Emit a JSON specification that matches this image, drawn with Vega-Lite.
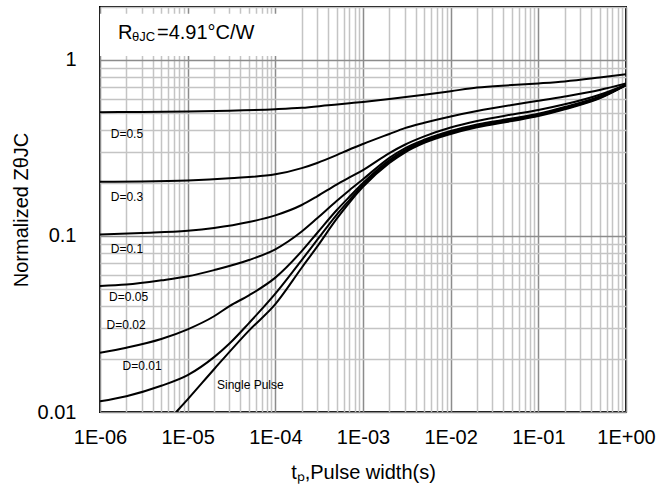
{
  "$schema": "https://vega.github.io/schema/vega-lite/v6.json",
  "width": 526,
  "height": 405,
  "autosize": {"type": "none"},
  "padding": {"left": 100, "top": 7, "right": 31, "bottom": 82},
  "background": "white",
  "encoding": {
    "x": {
      "field": "t", "type": "quantitative",
      "scale": {"type": "log", "domain": [0.000001, 1], "nice": false},
      "axis": {
        "title": "tₚ,Pulse width(s)",
        "values": [0.000001,0.000002,0.000003,0.000004,0.000005,0.000006,0.000007,0.000008,0.000009,0.00001,0.00002,0.00003,0.00004,0.00005,0.00006,0.00007,0.00008,0.00009,0.0001,0.0002,0.0003,0.0004,0.0005,0.0006,0.0007,0.0008,0.0009,0.001,0.002,0.003,0.004,0.005,0.006,0.007,0.008,0.009,0.01,0.02,0.03,0.04,0.05,0.06,0.07,0.08,0.09,0.1,0.2,0.3,0.4,0.5,0.6,0.7,0.8,0.9,1],
        "labelExpr": "abs(log(datum.value)/LN10 - round(log(datum.value)/LN10)) < 0.01 ? (datum.value >= 0.999 ? '1E+00' : '1E-' + pad(toString(round(-log(datum.value)/LN10)), 2, '0', 'left')) : ''",
        "labelOverlap": false,
        "labelFlush": false,
        "labelPadding": 15,
        "titlePadding": 15,
        "grid": true,
        "gridColor": {"condition": {"test": "abs(log(datum.value)/LN10 - round(log(datum.value)/LN10)) < 0.01", "value": "#8c8c8c"}, "value": "#c4c4c4"},
        "gridWidth": 1.5
      }
    },
    "y": {
      "field": "z", "type": "quantitative",
      "scale": {"type": "log", "domain": [0.01, 2], "nice": false},
      "axis": {
        "title": "Normalized ZθJC",
        "values": [0.01,0.02,0.03,0.04,0.05,0.06,0.07,0.08,0.09,0.1,0.2,0.3,0.4,0.5,0.6,0.7,0.8,0.9,1,2],
        "format": "~g",
        "labelExpr": "abs(log(datum.value)/LN10 - round(log(datum.value)/LN10)) < 0.01 ? datum.label : ''",
        "labelOverlap": false,
        "labelFlush": false,
        "labelPadding": 24,
        "titlePadding": 6,
        "grid": true,
        "gridColor": {"condition": {"test": "abs(log(datum.value)/LN10 - round(log(datum.value)/LN10)) < 0.01", "value": "#8c8c8c"}, "value": "#c4c4c4"},
        "gridWidth": 1.5
      }
    }
  },
  "layer": [
    {
      "data": {"values": [{"t": 0.000001, "t2": 0.000147, "z": 1.054, "z2": 1.83}]},
      "mark": {"type": "rect", "color": "white"},
      "encoding": {"x2": {"field": "t2"}, "y2": {"field": "z2"}}
    },
    {
      "data": {"name": "curves", "values": [
        {"s":"D=0.5","t":0.000001,"z":0.505},{"s":"D=0.5","t":0.000003,"z":0.507},{"s":"D=0.5","t":0.00001,"z":0.51},{"s":"D=0.5","t":0.00003,"z":0.515},{"s":"D=0.5","t":0.0001,"z":0.525},{"s":"D=0.5","t":0.0002,"z":0.535},{"s":"D=0.5","t":0.0004,"z":0.553},{"s":"D=0.5","t":0.0007,"z":0.568},{"s":"D=0.5","t":0.001,"z":0.578},{"s":"D=0.5","t":0.002,"z":0.6},{"s":"D=0.5","t":0.005,"z":0.635},{"s":"D=0.5","t":0.01,"z":0.665},{"s":"D=0.5","t":0.02,"z":0.697},{"s":"D=0.5","t":0.05,"z":0.72},{"s":"D=0.5","t":0.1,"z":0.736},{"s":"D=0.5","t":0.2,"z":0.755},{"s":"D=0.5","t":0.5,"z":0.795},{"s":"D=0.5","t":1,"z":0.83},
        {"s":"D=0.3","t":0.000001,"z":0.203},{"s":"D=0.3","t":0.000003,"z":0.204},{"s":"D=0.3","t":0.00001,"z":0.207},{"s":"D=0.3","t":0.00003,"z":0.213},{"s":"D=0.3","t":0.0001,"z":0.224},{"s":"D=0.3","t":0.0002,"z":0.243},{"s":"D=0.3","t":0.0003,"z":0.26},{"s":"D=0.3","t":0.0005,"z":0.288},{"s":"D=0.3","t":0.0007,"z":0.31},{"s":"D=0.3","t":0.001,"z":0.333},{"s":"D=0.3","t":0.002,"z":0.38},{"s":"D=0.3","t":0.003,"z":0.41},{"s":"D=0.3","t":0.005,"z":0.44},{"s":"D=0.3","t":0.01,"z":0.478},{"s":"D=0.3","t":0.02,"z":0.513},{"s":"D=0.3","t":0.05,"z":0.555},{"s":"D=0.3","t":0.1,"z":0.586},{"s":"D=0.3","t":0.2,"z":0.62},{"s":"D=0.3","t":0.5,"z":0.675},{"s":"D=0.3","t":1,"z":0.735},
        {"s":"D=0.1","t":0.000001,"z":0.102},{"s":"D=0.1","t":0.000003,"z":0.104},{"s":"D=0.1","t":0.00001,"z":0.107},{"s":"D=0.1","t":0.00002,"z":0.111},{"s":"D=0.1","t":0.00005,"z":0.12},{"s":"D=0.1","t":0.0001,"z":0.131},{"s":"D=0.1","t":0.0002,"z":0.15},{"s":"D=0.1","t":0.0003,"z":0.168},{"s":"D=0.1","t":0.0005,"z":0.196},{"s":"D=0.1","t":0.0007,"z":0.215},{"s":"D=0.1","t":0.001,"z":0.237},{"s":"D=0.1","t":0.002,"z":0.296},{"s":"D=0.1","t":0.003,"z":0.33},{"s":"D=0.1","t":0.005,"z":0.368},{"s":"D=0.1","t":0.01,"z":0.413},{"s":"D=0.1","t":0.02,"z":0.45},{"s":"D=0.1","t":0.05,"z":0.49},{"s":"D=0.1","t":0.1,"z":0.52},{"s":"D=0.1","t":0.2,"z":0.56},{"s":"D=0.1","t":0.5,"z":0.635},{"s":"D=0.1","t":1,"z":0.725},
        {"s":"D=0.05","t":0.000001,"z":0.052},{"s":"D=0.05","t":0.000002,"z":0.053},{"s":"D=0.05","t":0.000005,"z":0.056},{"s":"D=0.05","t":0.00001,"z":0.059},{"s":"D=0.05","t":0.00002,"z":0.064},{"s":"D=0.05","t":0.00005,"z":0.073},{"s":"D=0.05","t":0.0001,"z":0.084},{"s":"D=0.05","t":0.0002,"z":0.106},{"s":"D=0.05","t":0.0003,"z":0.126},{"s":"D=0.05","t":0.0005,"z":0.158},{"s":"D=0.05","t":0.0007,"z":0.182},{"s":"D=0.05","t":0.001,"z":0.21},{"s":"D=0.05","t":0.002,"z":0.278},{"s":"D=0.05","t":0.003,"z":0.315},{"s":"D=0.05","t":0.005,"z":0.352},{"s":"D=0.05","t":0.01,"z":0.395},{"s":"D=0.05","t":0.02,"z":0.43},{"s":"D=0.05","t":0.05,"z":0.465},{"s":"D=0.05","t":0.1,"z":0.495},{"s":"D=0.05","t":0.2,"z":0.54},{"s":"D=0.05","t":0.5,"z":0.62},{"s":"D=0.05","t":1,"z":0.725},
        {"s":"D=0.02","t":0.000001,"z":0.0217},{"s":"D=0.02","t":0.000002,"z":0.0232},{"s":"D=0.02","t":0.000005,"z":0.026},{"s":"D=0.02","t":0.00001,"z":0.0295},{"s":"D=0.02","t":0.00002,"z":0.035},{"s":"D=0.02","t":0.00003,"z":0.04},{"s":"D=0.02","t":0.00005,"z":0.046},{"s":"D=0.02","t":0.0001,"z":0.058},{"s":"D=0.02","t":0.0002,"z":0.082},{"s":"D=0.02","t":0.0003,"z":0.104},{"s":"D=0.02","t":0.0005,"z":0.14},{"s":"D=0.02","t":0.0007,"z":0.167},{"s":"D=0.02","t":0.001,"z":0.2},{"s":"D=0.02","t":0.002,"z":0.27},{"s":"D=0.02","t":0.003,"z":0.308},{"s":"D=0.02","t":0.005,"z":0.347},{"s":"D=0.02","t":0.01,"z":0.39},{"s":"D=0.02","t":0.02,"z":0.425},{"s":"D=0.02","t":0.05,"z":0.46},{"s":"D=0.02","t":0.1,"z":0.49},{"s":"D=0.02","t":0.2,"z":0.535},{"s":"D=0.02","t":0.5,"z":0.615},{"s":"D=0.02","t":1,"z":0.72},
        {"s":"D=0.01","t":0.000001,"z":0.0115},{"s":"D=0.01","t":0.000002,"z":0.0123},{"s":"D=0.01","t":0.000005,"z":0.0141},{"s":"D=0.01","t":0.00001,"z":0.0162},{"s":"D=0.01","t":0.00002,"z":0.0205},{"s":"D=0.01","t":0.00003,"z":0.0245},{"s":"D=0.01","t":0.00005,"z":0.032},{"s":"D=0.01","t":0.0001,"z":0.047},{"s":"D=0.01","t":0.0002,"z":0.073},{"s":"D=0.01","t":0.0003,"z":0.095},{"s":"D=0.01","t":0.0005,"z":0.132},{"s":"D=0.01","t":0.0007,"z":0.16},{"s":"D=0.01","t":0.001,"z":0.195},{"s":"D=0.01","t":0.002,"z":0.265},{"s":"D=0.01","t":0.003,"z":0.303},{"s":"D=0.01","t":0.005,"z":0.342},{"s":"D=0.01","t":0.01,"z":0.385},{"s":"D=0.01","t":0.02,"z":0.42},{"s":"D=0.01","t":0.05,"z":0.455},{"s":"D=0.01","t":0.1,"z":0.485},{"s":"D=0.01","t":0.2,"z":0.53},{"s":"D=0.01","t":0.5,"z":0.61},{"s":"D=0.01","t":1,"z":0.72},
        {"s":"Single","t":0.0000074,"z":0.01},{"s":"Single","t":0.00001,"z":0.0118},{"s":"Single","t":0.00002,"z":0.0175},{"s":"Single","t":0.00005,"z":0.029},{"s":"Single","t":0.0001,"z":0.041},{"s":"Single","t":0.0002,"z":0.066},{"s":"Single","t":0.0003,"z":0.087},{"s":"Single","t":0.0005,"z":0.125},{"s":"Single","t":0.0007,"z":0.155},{"s":"Single","t":0.001,"z":0.19},{"s":"Single","t":0.002,"z":0.26},{"s":"Single","t":0.003,"z":0.298},{"s":"Single","t":0.005,"z":0.338},{"s":"Single","t":0.01,"z":0.38},{"s":"Single","t":0.02,"z":0.415},{"s":"Single","t":0.05,"z":0.45},{"s":"Single","t":0.1,"z":0.48},{"s":"Single","t":0.2,"z":0.525},{"s":"Single","t":0.5,"z":0.605},{"s":"Single","t":1,"z":0.72}
      ]},
      "mark": {"type": "line", "color": "black", "strokeWidth": 2, "interpolate": "monotone", "clip": true},
      "encoding": {"detail": {"field": "s"}}
    },
    {
      "data": {"values": [
        {"label": "D=0.5", "t": 0.000001325, "z": 0.379},
        {"label": "D=0.3", "t": 0.000001325, "z": 0.1657},
        {"label": "D=0.1", "t": 0.000001325, "z": 0.0849},
        {"label": "D=0.05", "t": 0.00000127, "z": 0.0448},
        {"label": "D=0.02", "t": 0.00000119, "z": 0.0313},
        {"label": "D=0.01", "t": 0.00000181, "z": 0.01836},
        {"label": "Single Pulse", "t": 0.0000216, "z": 0.01425}
      ]},
      "mark": {"type": "text", "align": "left", "baseline": "middle", "fontSize": 12, "font": "Liberation Sans", "color": "black"},
      "encoding": {"text": {"field": "label"}}
    },
    {
      "data": {"values": [
        {"label": "R", "t": 0.000001605, "z": 1.425},
        {"label": "=4.91°C/W", "t": 0.00000447, "z": 1.425}
      ]},
      "mark": {"type": "text", "align": "left", "baseline": "middle", "fontSize": 20, "font": "Liberation Sans", "color": "black"},
      "encoding": {"text": {"field": "label"}}
    },
    {
      "data": {"values": [
        {"label": "θJC", "t": 0.000002317, "z": 1.352}
      ]},
      "mark": {"type": "text", "align": "left", "baseline": "middle", "fontSize": 13, "font": "Liberation Sans", "color": "black"},
      "encoding": {"text": {"field": "label"}}
    }
  ],
  "config": {
    "view": {"stroke": "black", "strokeWidth": 2},
    "axis": {
      "labelFont": "Liberation Sans", "titleFont": "Liberation Sans",
      "labelFontSize": 20, "titleFontSize": 20, "titleFontWeight": "normal",
      "labelColor": "black", "titleColor": "black",
      "domain": false, "ticks": false
    }
  }
}
